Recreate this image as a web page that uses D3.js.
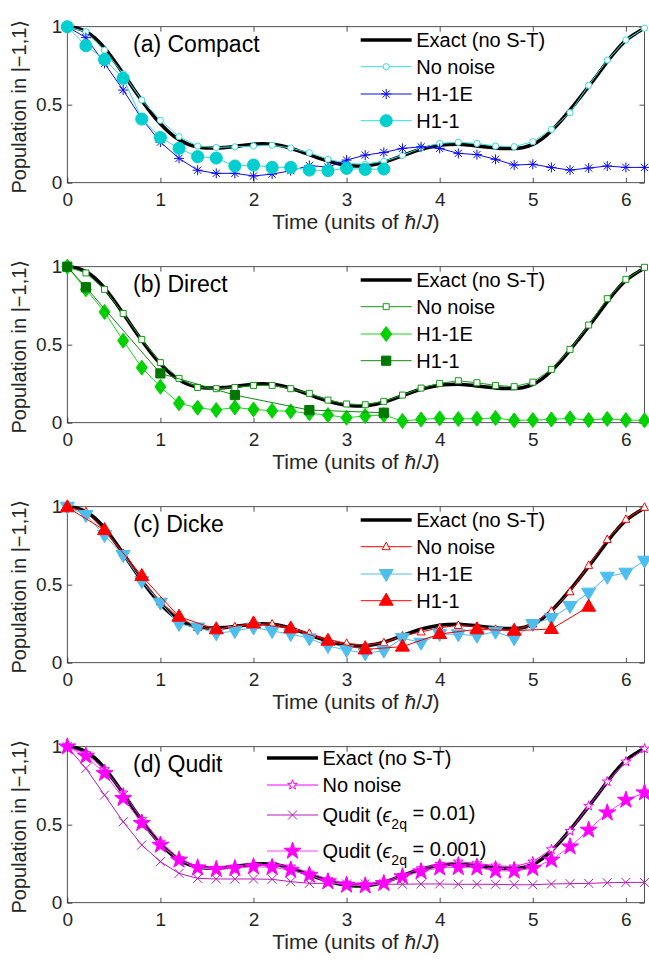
<!DOCTYPE html>
<html>
<head>
<meta charset="utf-8">
<script src="https://cdn.jsdelivr.net/npm/d3@7"></script>
<style>
body { margin: 0; background: #fff; }
svg { display: block; font-family: "Liberation Sans", Arial, "DejaVu Sans", sans-serif; }
</style>
</head>
<body>
<svg id="chart"></svg>
<script>
// Time grid of the simulated points (units of hbar/J)
const tGrid = [0, 0.2, 0.4, 0.6, 0.8, 1.0, 1.2, 1.4, 1.6, 1.8, 2.0, 2.2, 2.4, 2.6, 2.8, 3.0,
    3.2, 3.4, 3.6, 3.8, 4.0, 4.2, 4.4, 4.6, 4.8, 5.0, 5.2, 5.4, 5.6, 5.8, 6.0, 6.2];

// Exact curve (no Suzuki-Trotter), every 0.1
const exactT = [0, 0.1, 0.2, 0.3, 0.4, 0.5, 0.6, 0.7, 0.8, 0.9, 1.0, 1.1, 1.2, 1.3, 1.4, 1.5,
    1.6, 1.7, 1.8, 1.9, 2.0, 2.1, 2.2, 2.3, 2.4, 2.5, 2.6, 2.7, 2.8, 2.9, 3.0, 3.1, 3.2, 3.3,
    3.4, 3.5, 3.6, 3.7, 3.8, 3.9, 4.0, 4.1, 4.2, 4.3, 4.4, 4.5, 4.6, 4.7, 4.8, 4.9, 5.0, 5.1,
    5.2, 5.3, 5.4, 5.5, 5.6, 5.7, 5.8, 5.9, 6.0, 6.1, 6.2];
const exactPop = [1.0, 0.992, 0.968, 0.925, 0.862, 0.785, 0.7, 0.612, 0.527, 0.448, 0.378,
    0.32, 0.276, 0.246, 0.229, 0.222, 0.222, 0.226, 0.232, 0.24, 0.246, 0.25, 0.247, 0.237,
    0.221, 0.201, 0.18, 0.158, 0.139, 0.123, 0.112, 0.107, 0.108, 0.117, 0.132, 0.151, 0.173,
    0.195, 0.214, 0.229, 0.24, 0.245, 0.246, 0.242, 0.236, 0.229, 0.223, 0.219, 0.219, 0.226,
    0.245, 0.281, 0.333, 0.396, 0.466, 0.541, 0.617, 0.695, 0.776, 0.85, 0.912, 0.955, 0.99];

// (a) Compact
const compactNoNoise = [1.0, 0.968, 0.85, 0.697, 0.53, 0.4, 0.295, 0.235, 0.226, 0.23, 0.235,
    0.24, 0.222, 0.192, 0.15, 0.124, 0.118, 0.137, 0.175, 0.224, 0.252, 0.259, 0.252, 0.235,
    0.231, 0.263, 0.342, 0.449, 0.624, 0.786, 0.915, 0.991];
const compactH11E = [1.0, 0.93, 0.765, 0.594, 0.41, 0.26, 0.156, 0.08, 0.06, 0.06, 0.043,
    0.055, 0.077, 0.11, 0.1, 0.145, 0.177, 0.194, 0.22, 0.23, 0.22, 0.188, 0.18, 0.15, 0.113,
    0.118, 0.098, 0.081, 0.094, 0.107, 0.098, 0.098];
const compactH11Time = [0, 0.2, 0.4, 0.6, 0.8, 1.0, 1.2, 1.4, 1.6, 1.8, 2.0, 2.2, 2.4, 2.6,
    2.8, 3.0, 3.2, 3.4];
const compactH11 = [1.0, 0.878, 0.79, 0.669, 0.408, 0.29, 0.22, 0.167, 0.158, 0.107, 0.113,
    0.098, 0.098, 0.081, 0.077, 0.092, 0.085, 0.088];

// (b) Direct
const directNoNoise = [1.0, 0.96, 0.855, 0.7, 0.534, 0.385, 0.284, 0.226, 0.218, 0.226, 0.239,
    0.239, 0.218, 0.188, 0.145, 0.12, 0.115, 0.137, 0.177, 0.222, 0.252, 0.269, 0.256, 0.239,
    0.231, 0.26, 0.342, 0.47, 0.626, 0.795, 0.919, 0.996];
const directH11E = [1.0, 0.855, 0.71, 0.526, 0.353, 0.23, 0.124, 0.096, 0.081, 0.098, 0.085,
    0.077, 0.073, 0.06, 0.049, 0.032, 0.043, 0.049, 0.011, 0.021, 0.028, 0.024, 0.026, 0.03,
    0.015, 0.017, 0.021, 0.028, 0.017, 0.024, 0.017, 0.015];
const directH11Time = [0, 0.2, 1.0, 1.8, 2.6, 3.4];
const directH11 = [1.0, 0.868, 0.316, 0.177, 0.081, 0.064];

// (c) Dicke
const dickeNoNoise = [1.0, 0.968, 0.85, 0.7, 0.538, 0.39, 0.29, 0.226, 0.216, 0.23, 0.248,
    0.248, 0.224, 0.188, 0.15, 0.124, 0.113, 0.128, 0.171, 0.197, 0.224, 0.239, 0.231, 0.214,
    0.209, 0.248, 0.331, 0.455, 0.624, 0.79, 0.919, 0.996];
const dickeH11E = [1.0, 0.947, 0.818, 0.69, 0.523, 0.385, 0.248, 0.226, 0.188, 0.203, 0.226,
    0.203, 0.184, 0.156, 0.107, 0.081, 0.06, 0.077, 0.158, 0.128, 0.184, 0.182, 0.173, 0.199,
    0.156, 0.248, 0.286, 0.363, 0.449, 0.551, 0.577, 0.654];
const dickeH11Time = [0, 0.4, 0.8, 1.2, 1.6, 2.0, 2.4, 2.8, 3.2, 3.6, 4.0, 4.4, 4.8, 5.2, 5.6];
const dickeH11 = [0.996, 0.85, 0.556, 0.295, 0.214, 0.252, 0.22, 0.141, 0.085, 0.103, 0.184,
    0.214, 0.205, 0.216, 0.359];

// (d) Qudit
const quditNoNoise = [1.0, 0.957, 0.855, 0.705, 0.534, 0.39, 0.284, 0.231, 0.218, 0.231, 0.241,
    0.248, 0.231, 0.192, 0.15, 0.124, 0.118, 0.135, 0.177, 0.22, 0.248, 0.263, 0.252, 0.237,
    0.231, 0.263, 0.342, 0.459, 0.62, 0.776, 0.904, 0.987];
const quditEps01 = [1.0, 0.861, 0.69, 0.519, 0.37, 0.263, 0.188, 0.156, 0.152, 0.152, 0.152,
    0.15, 0.135, 0.124, 0.124, 0.12, 0.12, 0.118, 0.118, 0.12, 0.12, 0.118, 0.118, 0.118,
    0.115, 0.115, 0.12, 0.122, 0.124, 0.128, 0.13, 0.13];
const quditEps001 = [1.0, 0.94, 0.829, 0.669, 0.509, 0.37, 0.274, 0.224, 0.214, 0.22, 0.231,
    0.226, 0.209, 0.177, 0.135, 0.113, 0.109, 0.124, 0.167, 0.199, 0.224, 0.226, 0.224, 0.205,
    0.203, 0.22, 0.274, 0.359, 0.466, 0.577, 0.658, 0.705];

const xTicks = [0, 1, 2, 3, 4, 5, 6];
const yTicks = [0, 0.5, 1];

const zip = (t, v) => t.map((d, i) => [d, v[i]]);

// Panel setup built from the arrays above
const panels = [
    {label: "(a) Compact", legendX: 360.7, rows: [13.3, 40, 67.3, 94], series: [
        {name: "No noise", pts: zip(tGrid, compactNoNoise), color: "#33dede", marker: "circleOpen"},
        {name: "H1-1E", pts: zip(tGrid, compactH11E), color: "#0a0aff", marker: "asterisk"},
        {name: "H1-1", pts: zip(compactH11Time, compactH11), color: "#00cfcf", line: "#33dede", marker: "circle"}
    ]},
    {label: "(b) Direct", legendX: 360.7, rows: [13.3, 40, 67.3, 94], series: [
        {name: "No noise", pts: zip(tGrid, directNoNoise), color: "#129b12", marker: "squareOpen"},
        {name: "H1-1E", pts: zip(tGrid, directH11E), color: "#00d200", line: "#1ad61a", marker: "diamond"},
        {name: "H1-1", pts: zip(directH11Time, directH11), color: "#007800", line: "#108a10", marker: "square"}
    ]},
    {label: "(c) Dicke", legendX: 360.7, rows: [13.3, 40, 67.3, 94], series: [
        {name: "No noise", pts: zip(tGrid, dickeNoNoise), color: "#ff0000", marker: "triUpOpen"},
        {name: "H1-1E", pts: zip(tGrid, dickeH11E), color: "#4dbeee", marker: "triDown"},
        {name: "H1-1", pts: zip(dickeH11Time, dickeH11), color: "#ff0000", marker: "triUp"}
    ]},
    {label: "(d) Qudit", legendX: 267, rows: [11.3, 38.3, 68.3, 104.3], series: [
        {name: "No noise", pts: zip(tGrid, quditNoNoise), color: "#ff00ff", marker: "starOpen"},
        {name: "Qudit", eps: "0.01", pts: zip(tGrid, quditEps01), color: "#b81cb8", marker: "cross"},
        {name: "Qudit", eps: "0.001", pts: zip(tGrid, quditEps001), color: "#ff00ff", line: "#ff40ff", marker: "star"}
    ]}
];

const width = 649;
const height = 962;
const plotLeft = 67.3, plotRight = 644.5;
const firstTop = 26.7, panelStep = 240, plotH = 156;
const axisColor = "#262626";

const svg = d3.select("#chart")
    .attr("width", width)
    .attr("height", height)
    .attr("viewBox", [0, 0, width, height]);

const x = d3.scaleLinear().domain([0, 6.2]).range([plotLeft, plotRight]);

function markerPath(type) {
    switch (type) {
        case "circleOpen": return d3.symbol(d3.symbolCircle, 30)();
        case "circle": return d3.symbol(d3.symbolCircle, 115)();
        case "asterisk": return "M-5,0H5M0,-5V5M-3.6,-3.6L3.6,3.6M-3.6,3.6L3.6,-3.6";
        case "squareOpen": return "M-3,-3H3V3H-3Z";
        case "square": return "M-4.6,-4.6H4.6V4.6H-4.6Z";
        case "diamond": return "M0,-7.5L5.5,0L0,7.5L-5.5,0Z";
        case "triUpOpen": return "M0,-4.5L4,3L-4,3Z";
        case "triUp": return "M0,-7.5L7,4.5L-7,4.5Z";
        case "triDown": return "M0,7.5L7,-4.5L-7,-4.5Z";
        case "starOpen": return d3.symbol(d3.symbolStar, 30)();
        case "star": return d3.symbol(d3.symbolStar, 90)();
        case "cross": return "M-4.5,-4.5L4.5,4.5M-4.5,4.5L4.5,-4.5";
    }
}

function markerFill(s) {
    if (s.marker === "asterisk" || s.marker === "cross") return "none";
    if (s.marker.endsWith("Open")) return "#fff";
    return s.color;
}

panels.forEach((p, i) => {
    const top = firstTop + i * panelStep;
    const bottom = top + plotH;
    const y = d3.scaleLinear().domain([0, 1]).range([bottom, top]);
    const g = svg.append("g");

    // box
    g.append("rect")
        .attr("x", plotLeft).attr("y", top)
        .attr("width", plotRight - plotLeft).attr("height", plotH)
        .attr("fill", "none").attr("stroke", axisColor).attr("stroke-width", 0.8);

    // ticks, inward on all four sides
    const axes = [
        {axis: d3.axisBottom(x).tickValues(xTicks).tickFormat(d => d), at: `translate(0,${bottom})`},
        {axis: d3.axisTop(x).tickValues(xTicks).tickFormat(""), at: `translate(0,${top})`},
        {axis: d3.axisLeft(y).tickValues(yTicks).tickFormat(d => String(d)), at: `translate(${plotLeft},0)`},
        {axis: d3.axisRight(y).tickValues(yTicks).tickFormat(""), at: `translate(${plotRight},0)`}
    ];
    axes.forEach((a, k) => {
        const ag = g.append("g")
            .attr("transform", a.at)
            .call(a.axis.tickSize(-5).tickPadding(k === 0 ? 10 : 5));
        ag.select(".domain").remove();
        ag.selectAll(".tick line").attr("stroke", axisColor).attr("stroke-width", 0.8);
        ag.selectAll(".tick text")
            .attr("fill", axisColor)
            .style("font-size", "19px")
            .style("font-family", "'Liberation Sans', Arial, sans-serif");
    });

    // axis titles
    const xt = g.append("text")
        .attr("x", (plotLeft + plotRight) / 2)
        .attr("y", bottom + 46)
        .attr("text-anchor", "middle")
        .attr("fill", axisColor)
        .style("font-size", "21px");
    xt.append("tspan").text("Time (units of ");
    xt.append("tspan").style("font-style", "italic").text("ħ");
    xt.append("tspan").text("/");
    xt.append("tspan").style("font-style", "italic").text("J");
    xt.append("tspan").text(")");

    g.append("text")
        .attr("transform", `translate(26,${top + 80}) rotate(-90)`)
        .attr("text-anchor", "middle")
        .attr("fill", axisColor)
        .style("font-size", "20px")
        .text("Population in |−1,1⟩");

    // exact curve
    const line = d3.line().x(d => x(d[0])).y(d => y(d[1]));
    g.append("path")
        .datum(zip(exactT, exactPop))
        .attr("d", line.curve(d3.curveMonotoneX))
        .attr("fill", "none")
        .attr("stroke", "#000")
        .attr("stroke-width", 3.6);

    const straight = d3.line().x(d => x(d[0])).y(d => y(d[1]));
    p.series.forEach(s => {
        g.append("path")
            .datum(s.pts)
            .attr("d", straight)
            .attr("fill", "none")
            .attr("stroke", s.line || s.color)
            .attr("stroke-width", 1);
        g.append("g").selectAll("path")
            .data(s.pts)
            .join("path")
            .attr("transform", d => `translate(${x(d[0])},${y(d[1])})`)
            .attr("d", markerPath(s.marker))
            .attr("fill", markerFill(s))
            .attr("stroke", s.color)
            .attr("stroke-width", 1);
    });

    // panel label
    g.append("text")
        .attr("x", 133)
        .attr("y", top + 25.5)
        .attr("fill", "#000")
        .style("font-size", "23px")
        .text(p.label);

    // legend
    const lx0 = p.legendX, lx1 = lx0 + 51, tx = lx1 + 4.5;
    const entries = [{name: "Exact (no S-T)", exact: true}].concat(p.series);
    entries.forEach((e, k) => {
        const ry = top + p.rows[k];
        const lg = g.append("g");
        lg.append("line")
            .attr("x1", lx0).attr("x2", lx1).attr("y1", ry).attr("y2", ry)
            .attr("stroke", e.exact ? "#000" : (e.line || e.color))
            .attr("stroke-width", e.exact ? 3.6 : 1);
        if (!e.exact) {
            lg.append("path")
                .attr("transform", `translate(${(lx0 + lx1) / 2},${ry})`)
                .attr("d", markerPath(e.marker))
                .attr("fill", markerFill(e))
                .attr("stroke", e.color)
                .attr("stroke-width", 1);
        }
        const t = lg.append("text")
            .attr("x", tx).attr("y", ry).attr("dy", "0.36em")
            .attr("fill", "#000")
            .style("font-size", "20px");
        if (e.eps) {
            t.append("tspan").text(e.name + " (");
            t.append("tspan").style("font-style", "italic").text("ϵ");
            t.append("tspan").attr("dy", "0.45em").style("font-size", "14px").text("2q");
            t.append("tspan").attr("dy", "-0.45em").text(" = " + e.eps + ")");
        } else {
            t.text(e.name);
        }
    });
});
</script>
</body>
</html>
